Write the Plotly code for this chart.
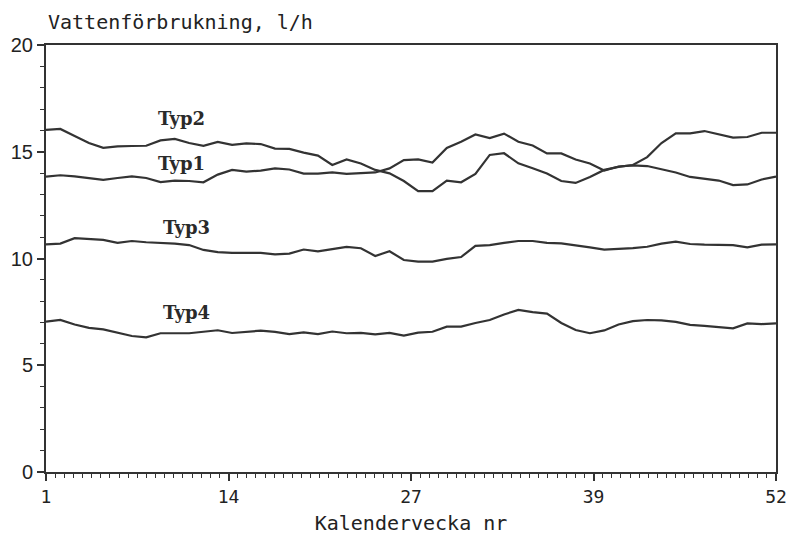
import plotly.graph_objects as go

weeks = list(range(1, 53))

typ1 = [13.83, 13.90, 13.85, 13.77, 13.68, 13.77, 13.85, 13.77, 13.58, 13.65,
        13.63, 13.57, 13.93, 14.15, 14.07, 14.12, 14.22, 14.17, 13.98, 13.98,
        14.03, 13.96, 13.98, 14.03, 14.22, 14.61, 14.64, 14.49, 15.18, 15.47,
        15.81, 15.64, 15.85, 15.47, 15.29, 14.92, 14.92, 14.64, 14.45, 14.12,
        14.31, 14.36, 14.33, 14.19, 14.03, 13.82, 13.72, 13.65, 13.44, 13.47,
        13.70, 13.84]

typ2 = [16.02, 16.07, 15.74, 15.41, 15.18, 15.25, 15.27, 15.28, 15.53, 15.60,
        15.41, 15.28, 15.46, 15.32, 15.39, 15.36, 15.15, 15.13, 14.96, 14.82,
        14.38, 14.64, 14.45, 14.15, 13.99, 13.63, 13.16, 13.16, 13.65, 13.57,
        13.96, 14.85, 14.93, 14.46, 14.23, 13.98, 13.63, 13.54, 13.82, 14.15,
        14.29, 14.38, 14.75, 15.41, 15.86, 15.86, 15.97, 15.83, 15.66, 15.69,
        15.89, 15.89]

typ3 = [10.66, 10.70, 10.95, 10.91, 10.87, 10.73, 10.82, 10.76, 10.73, 10.70,
        10.63, 10.40, 10.30, 10.26, 10.26, 10.26, 10.19, 10.23, 10.42, 10.33,
        10.44, 10.54, 10.48, 10.12, 10.34, 9.93, 9.85, 9.85, 9.98, 10.07,
        10.59, 10.63, 10.73, 10.82, 10.82, 10.73, 10.71, 10.63, 10.52, 10.42,
        10.44, 10.49, 10.55, 10.70, 10.79, 10.68, 10.65, 10.65, 10.63, 10.52,
        10.65, 10.66]

typ4 = [7.04, 7.12, 6.91, 6.75, 6.68, 6.52, 6.37, 6.31, 6.50, 6.50,
        6.50, 6.57, 6.64, 6.51, 6.56, 6.62, 6.56, 6.46, 6.54, 6.46,
        6.58, 6.50, 6.52, 6.45, 6.52, 6.39, 6.53, 6.57, 6.81, 6.81,
        6.98, 7.12, 7.38, 7.59, 7.49, 7.42, 6.98, 6.65, 6.50, 6.63,
        6.91, 7.07, 7.12, 7.10, 7.03, 6.89, 6.84, 6.78, 6.73, 6.96,
        6.93, 6.96]

series = {"Typ1": typ1, "Typ2": typ2, "Typ3": typ3, "Typ4": typ4}

# label positions (week, value)
label_names = ["Typ2", "Typ1", "Typ3", "Typ4"]
label_x = [10.5, 10.5, 10.8, 10.8]
label_y = [16.58, 14.47, 11.43, 7.45]

x_tick_labels = ["1", "14", "27", "39", "52"]
x_tick_pos = [1, 13.75, 26.5, 39.25, 52]
y_tick_vals = [0, 5, 10, 15, 20]

ink = "#333333"

fig = go.Figure()
for name, vals in series.items():
    fig.add_trace(go.Scatter(x=weeks, y=vals, mode="lines", name=name,
                             line=dict(color=ink, width=2.2), showlegend=False))

for name, lx, ly in zip(label_names, label_x, label_y):
    fig.add_annotation(x=lx, y=ly, text="<b>" + name + "</b>", showarrow=False,
                       font=dict(family="DejaVu Serif", size=18, color="#2a2a2a"))

fig.add_annotation(xref="paper", yref="paper", x=0.0, y=1.054, xanchor="left",
                   yanchor="middle", text="Vattenförbrukning, l/h", showarrow=False,
                   font=dict(family="DejaVu Sans Mono", size=20, color="#222222"))

fig.update_layout(
    width=788, height=536,
    margin=dict(l=46, r=12, t=45, b=64, autoexpand=False),
    paper_bgcolor="white", plot_bgcolor="white",
    xaxis=dict(
        range=[1, 52], tickmode="array", tickvals=x_tick_pos, ticktext=x_tick_labels,
        ticks="outside", ticklen=7, tickwidth=1.5, tickcolor=ink,
        showline=True, linecolor=ink, linewidth=2, mirror=True,
        showgrid=False, zeroline=False, automargin=False,
        tickfont=dict(family="DejaVu Sans Mono", size=18, color="#222222"),
        title=dict(text="Kalendervecka nr", standoff=10,
                   font=dict(family="DejaVu Sans Mono", size=20, color="#222222")),
        minor=dict(tick0=1, dtick=51 / 80, ticks="outside", ticklen=4,
                   tickwidth=1.2, tickcolor=ink, showgrid=False),
    ),
    yaxis=dict(
        range=[0, 20], tickmode="array", tickvals=y_tick_vals,
        ticks="outside", ticklen=7, tickwidth=1.5, tickcolor=ink,
        showline=True, linecolor=ink, linewidth=2, mirror=True,
        showgrid=False, zeroline=False, automargin=False,
        tickfont=dict(family="Liberation Sans", size=20, color="#222222"),
        minor=dict(tick0=0, dtick=1, ticks="outside", ticklen=4,
                   tickwidth=1.2, tickcolor=ink, showgrid=False),
    ),
)

fig.write_html("out.html")
